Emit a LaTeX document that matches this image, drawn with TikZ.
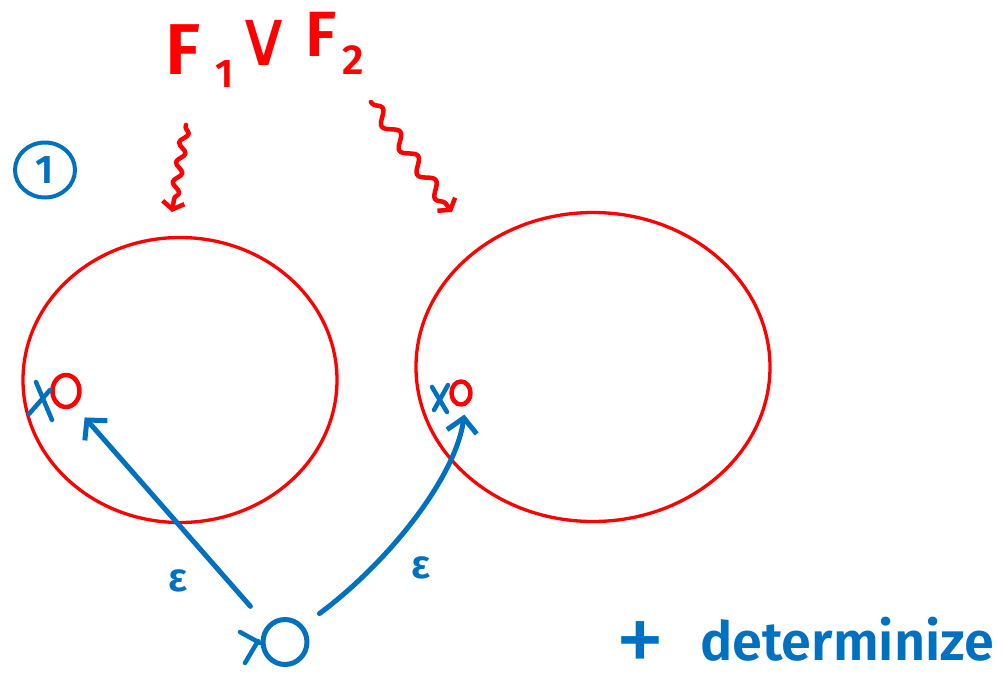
\documentclass[tikz,border=0pt]{standalone}
\usepackage{fontspec}
\setmainfont{Fira Sans}
\newfontfamily\semib{Fira Sans SemiBold}
\newfontfamily\symfont{DejaVu Sans}
\usetikzlibrary{arrows.meta,decorations.pathmorphing,shapes.geometric,calc}
\definecolor{penred}{RGB}{255,0,0}
\definecolor{penblue}{RGB}{0,112,192}
\begin{document}
\begin{tikzpicture}[x=1pt,y=-1pt,line cap=round,line join=round,
  bigring/.style={ellipse,draw=penred,line width=3.3pt,inner sep=0pt},
  accstate/.style={ellipse,draw=penred,line width=4.5pt,inner sep=0pt},
  startstate/.style={ellipse,draw=penblue,line width=5pt,inner sep=0pt},
  cross/.style={draw=penblue,line width=4.5pt},
  eps/.style={text=penblue,font=\semib\fontsize{40}{40}\selectfont,inner sep=0pt},
  trans/.style={draw=penblue,line width=5pt,-{Straight Barb[length=14pt,width=30pt]}},
  squig/.style={draw=penred,line width=4.5pt,decorate,
    decoration={snake,amplitude=4pt,segment length=20pt,pre length=2pt,post length=10pt},
    -{Straight Barb[length=7pt,width=22pt]}},
  redtxt/.style={text=penred,inner sep=0pt},
  bluetxt/.style={text=penblue,inner sep=0pt},
]
\useasboundingbox (0,0) rectangle (1002,683);

% formula
\node[redtxt,font=\semib\fontsize{72}{72}\selectfont] (fA) at (183,50) {F};
\node[redtxt,font=\semib\fontsize{40}{40}\selectfont] (fAsub) at (225,74) {1};
\node[redtxt,font=\symfont\fontsize{78}{78}\selectfont] (orsym) at (264,43) {∨};
\node[redtxt,font=\semib\fontsize{64}{64}\selectfont] (fB) at (321,34) {F};
\node[redtxt,font=\semib\fontsize{42}{42}\selectfont] (fBsub) at (353,60) {2};

% step marker
\node[ellipse,draw=penblue,line width=4pt,minimum width=60pt,minimum height=55pt,
  inner sep=0pt,text=penblue,font=\semib\fontsize{40}{40}\selectfont] (stepone) at (45,170) {1};

% squiggly arrows
\coordinate (sqLa) at (186,125);
\coordinate (sqLb) at (172,212);
\coordinate (sqRa) at (371,102);
\coordinate (sqRb) at (452,212);
\draw[squig] (sqLa) -- (sqLb);
\draw[squig,decoration={snake,amplitude=6pt,segment length=30pt,pre length=2pt,post length=10pt}] (sqRa) -- (sqRb);

% automata
\node[bigring,minimum width=314pt,minimum height=285pt] (ringL) at (180,380) {};
\node[bigring,minimum width=354pt,minimum height=309pt] (ringR) at (593,367) {};
\node[accstate,minimum width=27pt,minimum height=32pt] (accL) at (66,391) {};
\node[accstate,minimum width=19pt,minimum height=23pt] (accR) at (461,393) {};
\draw[cross] (36,382) -- (52,420);
\draw[cross] (50,390) -- (29,414);
\draw[cross] (432,387) -- (447,412);
\draw[cross] (448,385) -- (434,410);

\node[startstate,minimum width=44pt,minimum height=45pt] (s0) at (285,642) {};
\draw[cross] (240,632) -- (260,643);
\draw[cross] (258,641) -- (245,663);

\draw[trans,shorten <=25pt,shorten >=15pt] (s0.137) -- (accL.-60);
\draw[trans,shorten <=20pt,shorten >=9pt] (s0.42) .. controls (385,565) and (455,480) .. (accR.-70);

\node[eps] (epsL) at (178,581) {ε};
\node[eps] (epsR) at (421,568) {ε};

% determinize
\node[bluetxt,font=\fontsize{100}{100}\selectfont] (plus) at (640,648) {+};
\node[bluetxt,font=\semib\fontsize{54}{54}\selectfont,anchor=base west] (det) at (700,660) {determinize};
\end{tikzpicture}
\end{document}
